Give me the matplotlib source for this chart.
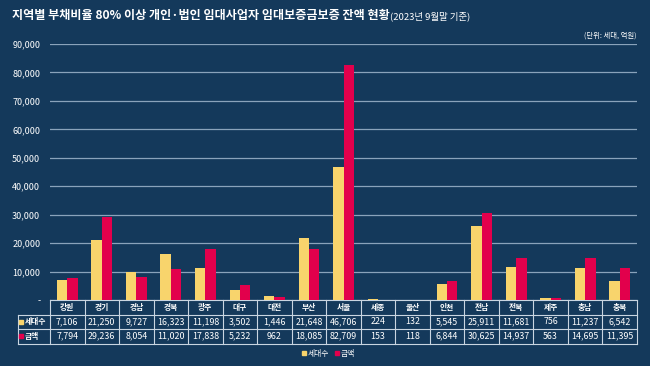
import numpy as np
import matplotlib as mpl
mpl.use('Agg')
import matplotlib.pyplot as plt
from matplotlib.lines import Line2D

plt.rcParams['font.family'] = ['Noto Sans CJK KR', 'DejaVu Sans']

# data (unit: households, 100M won)
regions = ['강원', '경기', '경남', '경북', '광주', '대구', '대전', '부산', '서울',
           '세종', '울산', '인천', '전남', '전북', '제주', '충남', '충북']
households = [7106, 21250, 9727, 16323, 11198, 3502, 1446, 21648, 46706,
              224, 132, 5545, 25911, 11681, 756, 11237, 6542]
amounts = [7794, 29236, 8054, 11020, 17838, 5232, 962, 18085, 82709,
           153, 118, 6844, 30625, 14937, 563, 14695, 11395]
series_names = ['세대수', '금액']
yticks = np.arange(0, 90001, 10000)

bg = '#14395b'
yellow = '#f8d46c'
red = '#e2004c'
grid_c = '#8aa3bb'
line_c = '#c9d5e1'

fig = plt.figure(figsize=(6.5, 3.66), dpi=100)
fig.patch.set_facecolor(bg)
ax = fig.add_axes([50 / 650, 1 - 300 / 366, 587 / 650, 256 / 366])
ax.set_facecolor(bg)

x = np.arange(len(regions))
ax.bar(x - 0.15, households, 0.3, color=yellow, zorder=3)
ax.bar(x + 0.15, amounts, 0.3, color=red, zorder=3)
ax.set_xlim(-0.5, len(regions) - 0.5)
ax.set_ylim(0, 90000)
ax.set_yticks(yticks)
ax.set_yticklabels(['-' if v == 0 else f'{v:,}' for v in yticks],
                   color='white', fontsize=6.5)
ax.tick_params(axis='y', length=0, pad=7)
ax.set_xticks([])
ax.yaxis.grid(True, color=grid_c, lw=0.9, zorder=0)
for s in ax.spines.values():
    s.set_visible(False)

# data table under the plot
tr = ax.get_xaxis_transform()
h = 14.5 / 256
xl = -0.5 - 32 / (587 / len(regions))
n = len(regions)
kw = dict(color=line_c, lw=0.8, clip_on=False, transform=tr)
ax.plot([-0.5, n - 0.5], [0, 0], **kw)
for k in range(1, 4):
    ax.plot([xl, n - 0.5], [-k * h, -k * h], **kw)
for k in range(n + 1):
    ax.plot([k - 0.5, k - 0.5], [0, -3 * h], **kw)
ax.plot([xl, xl], [-h, -3 * h], **kw)

for i, r in enumerate(regions):
    ax.text(i, -0.5 * h, r, transform=tr, ha='center', va='center',
            color='white', fontsize=5.6, fontweight='bold')
    ax.text(i, -1.5 * h, f'{households[i]:,}', transform=tr, ha='center',
            va='center', color='white', fontsize=6.4)
    ax.text(i, -2.5 * h, f'{amounts[i]:,}', transform=tr, ha='center',
            va='center', color='white', fontsize=6.4)

for k, (name, c) in enumerate(zip(series_names, [yellow, red])):
    yy = -(1.5 + k) * h
    ax.plot([xl + 0.1], [yy], marker='s', ms=3, color=c, mec=c,
            clip_on=False, transform=tr)
    ax.text(xl + 0.2, yy, name, transform=tr, ha='left', va='center',
            color='white', fontsize=5.6, fontweight='bold')

# legend
handles = [Line2D([], [], marker='s', ls='', ms=3.5, color=c)
           for c in [yellow, red]]
fig.legend(handles, series_names, loc='center', bbox_to_anchor=(0.505, 1 - 354 / 366),
           ncol=2, frameon=False, fontsize=5.6, labelcolor='white',
           handlelength=0.5, handletextpad=0.2, columnspacing=0.8)

# title
t = fig.text(12 / 650, 1 - 16 / 366,
             '지역별 부채비율 80% 이상 개인·법인 임대사업자 임대보증금보증 잔액 현황',
             color='white', fontsize=8.7, fontweight='bold', va='center')
fig.canvas.draw()
bb = t.get_window_extent()
fig.text(bb.x1 / fig.bbox.width, 1 - 16.5 / 366, '(2023년 9월말 기준)',
         color='white', fontsize=6.8, va='center')
fig.text(637 / 650, 1 - 36 / 366, '(단위: 세대, 억원)', color='white',
         fontsize=5.3, ha='right', va='center')

fig.savefig('out.png', dpi=100, facecolor=bg)
